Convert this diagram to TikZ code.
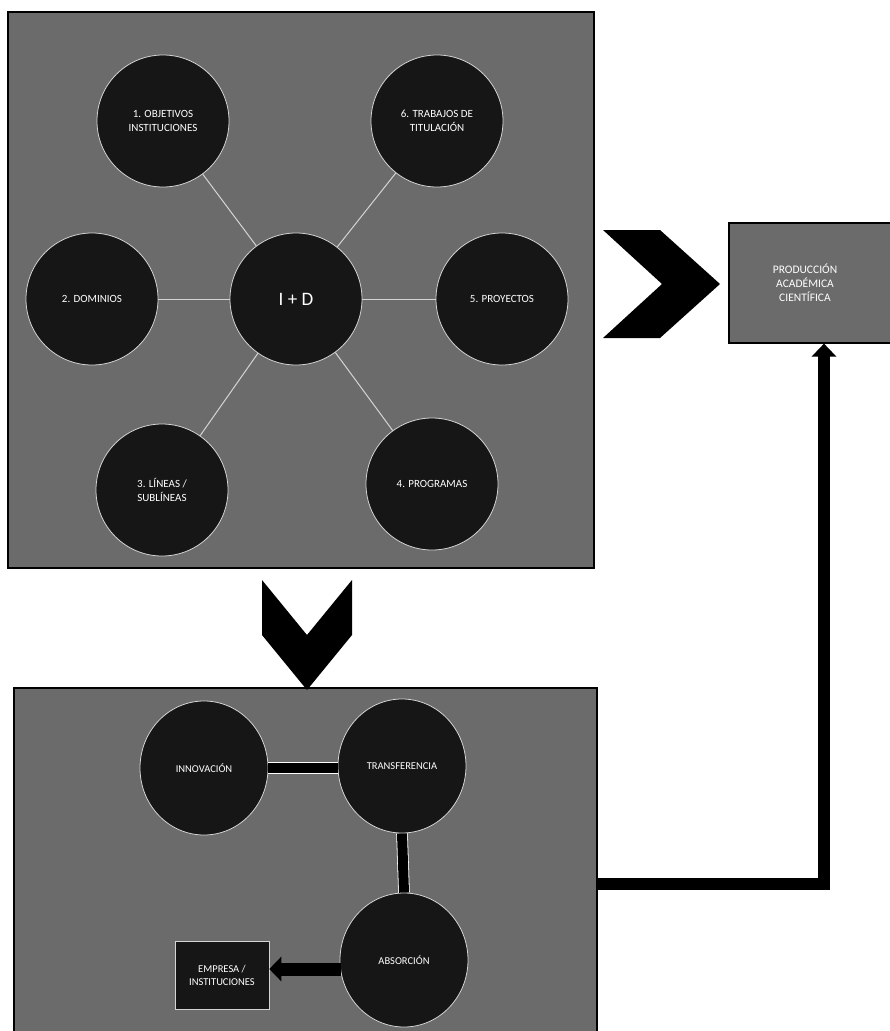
\documentclass[tikz,border=0pt]{standalone}
\usepackage{fontspec}
\setmainfont{Carlito}
\usetikzlibrary{arrows.meta,calc,shapes.geometric}
\definecolor{boxgray}{HTML}{6B6B6B}
\definecolor{circ}{HTML}{161616}
\definecolor{rim}{HTML}{D4D4D4}
\begin{document}
\begin{tikzpicture}[x=1pt,y=-1pt,
  panel/.style={rectangle,draw=black,line width=1.2pt,fill=boxgray,inner sep=0pt},
  bubble/.style={circle,fill=circ,draw=rim,line width=0.8pt,minimum size=132pt,inner sep=0pt,
    text=white,align=center,font=\fontsize{11}{13.5}\selectfont},
  oval/.style={ellipse,fill=circ,draw=rim,line width=0.8pt,minimum width=128pt,minimum height=134pt,
    inner sep=0pt,text=white,align=center,font=\fontsize{10.5}{13}\selectfont},
  darkbox/.style={rectangle,fill=circ,draw=rim,line width=0.6pt,minimum width=94pt,minimum height=68pt,
    inner sep=0pt,text=white,align=center,font=\fontsize{10.5}{13}\selectfont},
  link/.style={draw=rim,line width=1pt},
  bar/.style={draw=white,double=black,double distance=10pt,line width=0.8pt},
  flow/.style={line width=12pt,-{Triangle[width=24pt,length=13pt]}},
  chev/.style={fill=black}
]
\useasboundingbox (0,0) rectangle (890,1031);

% panels
\node[panel,minimum width=586pt,minimum height=556pt] (toppanel) at (301,290) {};
\node[panel,minimum width=583pt,minimum height=350pt] (botpanel) at (305.5,863) {};
\node[panel,minimum width=164pt,minimum height=120pt,text=white,align=center,
  font=\fontsize{11.5}{14}\selectfont] (prod) at (811,283)
  {\hspace*{-12pt}PRODUCCIÓN\\\hspace*{-12pt}ACADÉMICA\\\hspace*{-12pt}CIENTÍFICA};

% top circles
\node[bubble] (c1) at (163,121) {1. OBJETIVOS\\INSTITUCIONES};
\node[bubble] (c6) at (437,121) {6. TRABAJOS DE\\TITULACIÓN};
\node[bubble] (c2) at (92,299) {2. DOMINIOS};
\node[bubble,font=\fontsize{19}{22}\selectfont] (id) at (296,299) {I + D};
\node[bubble] (c5) at (502,299) {5. PROYECTOS};
\node[bubble] (c3) at (162,490) {3. LÍNEAS /\\SUBLÍNEAS};
\node[bubble] (c4) at (432,484) {4. PROGRAMAS};

\foreach \n in {c1,c6,c2,c5,c3,c4} \draw[link] (id) -- (\n);

% chevrons
\fill[chev] (603,230) -- (660,230) -- (720,284) -- (660,338) -- (603,338) -- (662,284) -- cycle;
\fill[chev] (262,580) -- (307,635) -- (352,580) -- (352,635) -- (307,690) -- (262,635) -- cycle;

% bottom panel content
\node[oval] (inn) at (204,768) {INNOVACIÓN};
\node[oval] (trans) at (402,766) {TRANSFERENCIA};
\node[oval] (abs) at (404,960) {ABSORCIÓN};
\node[darkbox] (emp) at (222,975) {EMPRESA /\\INSTITUCIONES};

\draw[bar] (inn.east) -- (inn.east -| trans.west);
\draw[bar] (trans.south) -- (abs.north);
\coordinate (absleft) at ($(abs.west)+(1,9)$);
\draw[line width=13pt,-{Triangle[width=24pt,length=12pt]}] (absleft) -- (absleft -| emp.east);

% long return connector
\coordinate (out) at (597,884);
\draw[flow] (out) -| ([xshift=13pt]prod.south);
\end{tikzpicture}
\end{document}
